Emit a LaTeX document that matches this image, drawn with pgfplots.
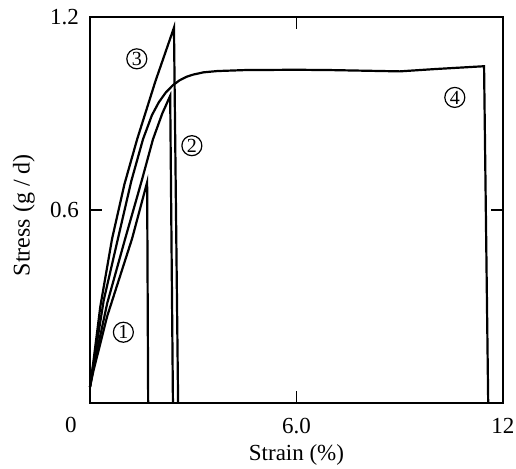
\documentclass[border=0pt]{standalone}
\usepackage{fontspec}
\setmainfont{Liberation Serif}
\usepackage{pgfplots}
\pgfplotsset{compat=1.18}
\begin{document}
\begin{tikzpicture}
\begin{axis}[
  scale only axis,
  width=206.5pt, height=193pt,
  xmin=0, xmax=12, ymin=0, ymax=1.2,
  xtick={6,12}, xticklabels={6.0,12},
  ytick={0.6,1.2}, yticklabels={0.6,1.2},
  tick align=inside,
  major tick length=6pt,
  tick style={line width=0.8pt, black},
  axis line style={line width=0.9pt},
  /pgf/number format/assume math mode=true,
  tick label style={font=\fontsize{11.5}{13}\selectfont},
  label style={font=\fontsize{11.5}{13}\selectfont},
  xticklabel style={anchor=north, yshift=-4pt},
  yticklabel style={anchor=east, xshift=-2pt},
  xlabel={Strain (\%)},
  ylabel={Stress (g / d)},
  xlabel style={at={(axis description cs:0.5,0)}, anchor=center, yshift=-26pt},
  every axis y label/.style={at={(axis description cs:0,0.487)}, rotate=90, anchor=center, yshift=33pt, font=\fontsize{12}{14}\selectfont},
  cycle list={{black}},
  every axis plot/.append style={line width=1.1pt, black, no markers},
  clip=false,
]
% curve 1
\addplot coordinates {(0,0.05) (0.1,0.1) (0.5,0.27) (1.22,0.51) (1.66,0.686) (1.69,0)};
% curve 2
\addplot coordinates {(0,0.05) (0.1,0.11) (0.5,0.31) (1.02,0.51) (1.5,0.69) (1.83,0.82) (2.1,0.9) (2.33,0.955) (2.41,0)};
% curve 3
\addplot coordinates {(0,0.05) (0.1,0.13) (0.3,0.3) (0.64,0.51) (1.0,0.68) (1.37,0.82) (1.9,1.0) (2.44,1.167) (2.56,0)};
% curve 4
\addplot coordinates {(0,0.05) (0.1,0.12) (0.4,0.32) (0.81,0.51) (1.2,0.69) (1.54,0.82) (1.8,0.895) (2.0,0.935) (2.2,0.965) (2.41,0.988) (2.6,1.003) (2.8,1.014) (3.0,1.021) (3.3,1.028) (3.7,1.032) (4.5,1.035) (6,1.036) (7,1.035) (8,1.033) (9,1.031) (10,1.038) (11.45,1.047) (11.57,0)};
\node[circle, draw, line width=0.6pt, inner sep=0.4pt, minimum size=10pt, font=\fontsize{10}{11}\selectfont] at (axis cs:0.97,0.22) {1};
\node[circle, draw, line width=0.6pt, inner sep=0.4pt, minimum size=10pt, font=\fontsize{10}{11}\selectfont] at (axis cs:2.96,0.80) {2};
\node[circle, draw, line width=0.6pt, inner sep=0.4pt, minimum size=10pt, font=\fontsize{10}{11}\selectfont] at (axis cs:1.36,1.07) {3};
\node[circle, draw, line width=0.6pt, inner sep=0.4pt, minimum size=10pt, font=\fontsize{10}{11}\selectfont] at (axis cs:10.6,0.95) {4};
\node[anchor=center, inner sep=0pt, font=\fontsize{11.5}{13}\selectfont] at (rel axis cs:0,0) [xshift=-9.5pt, yshift=-11pt] {0};
\end{axis}
\pgfresetboundingbox
\path[use as bounding box] (-45pt,-32.5pt) rectangle (213pt,201.5pt);
\end{tikzpicture}
\end{document}
